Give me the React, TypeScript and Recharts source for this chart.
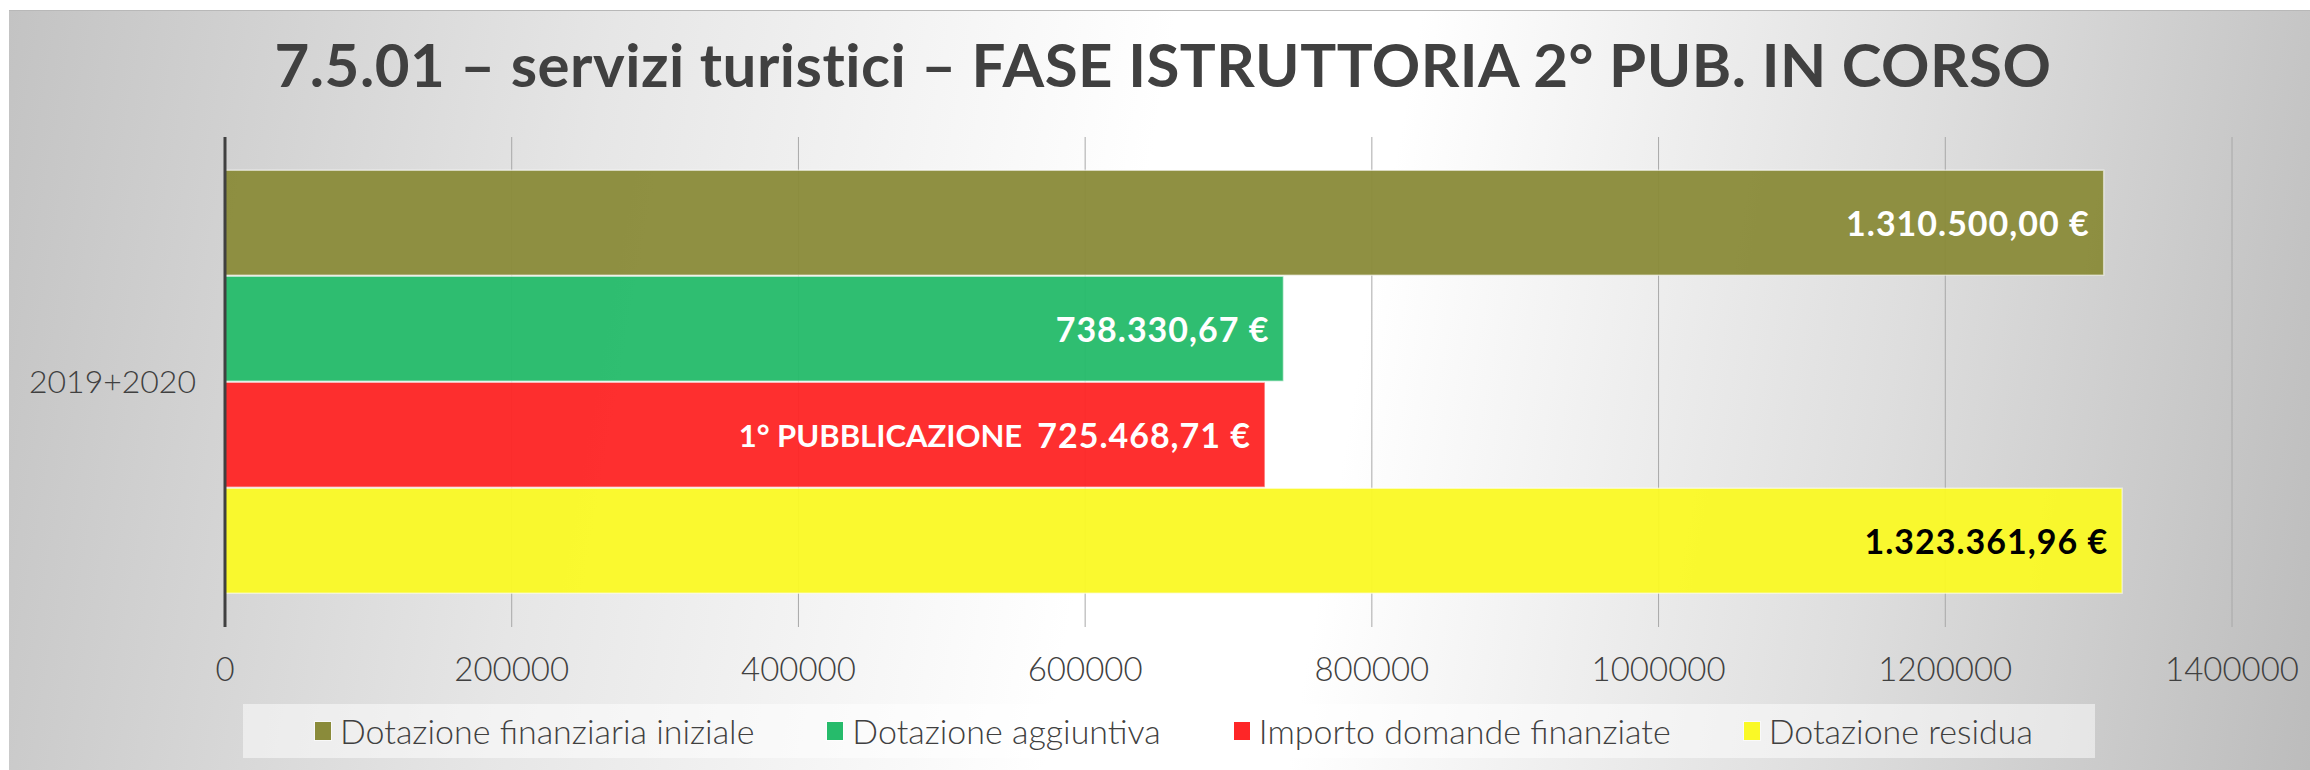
import { BarChart, Bar, XAxis, YAxis, CartesianGrid, LabelList } from 'recharts';

const categories = ['2019+2020'];
const seriesNames = [
  'Dotazione finanziaria iniziale',
  'Dotazione aggiuntiva',
  'Importo domande finanziate',
  'Dotazione residua',
];
const dotazioneIniziale = [1310500];
const dotazioneAggiuntiva = [738330.67];
const importoFinanziate = [725468.71];
const dotazioneResidua = [1323361.96];
const xTicks = [0, 200000, 400000, 600000, 800000, 1000000, 1200000, 1400000];

const COLORS = ['#8a8b3a', '#26bb6b', '#fe2627', '#faf926'];
const LABEL_COLORS = ['#ffffff', '#ffffff', '#ffffff', '#000000'];
const KEYS = ['iniziale', 'aggiuntiva', 'finanziate', 'residua'];
const PREFIX = ['', '', '1° PUBBLICAZIONE\u00a0\u00a0', ''];

const data = categories.map((category, i) => ({
  category,
  iniziale: dotazioneIniziale[i],
  aggiuntiva: dotazioneAggiuntiva[i],
  finanziate: importoFinanziate[i],
  residua: dotazioneResidua[i],
}));

// 1310500 -> "1.310.500,00 €"
const euro = (v: number) => {
  const [int, dec] = v.toFixed(2).split('.');
  return int.replace(/\B(?=(\d{3})+(?!\d))/g, '.') + ',' + dec + ' €';
};

const FONT = 'Lato, "Open Sans", sans-serif';

// value label inside the right end of each bar
const barLabel = (i: number) => (props: any) => {
  const { x, y, width, height, value } = props;
  return (
    <text
      x={Number(x) + Number(width) - 14}
      y={Number(y) + Number(height) / 2}
      textAnchor="end"
      dominantBaseline="central"
      fill={LABEL_COLORS[i]}
      fontSize={34}
      fontWeight={700}
      letterSpacing={1}
      fontFamily={FONT}
    >
      {PREFIX[i] && <tspan fontSize={31} letterSpacing={0}>{PREFIX[i]}</tspan>}
      {euro(Number(value))}
    </text>
  );
};

export default function App() {
  return (
    <div style={{ position: 'relative', width: 2310, height: 770, background: '#fff', fontFamily: FONT }}>
      <style>{'body{margin:0}'}</style>
      <div
        style={{
          position: 'absolute', left: 9, top: 10, right: 0, bottom: 0,
          borderTop: '1px solid #b8b8b8',
          background: 'linear-gradient(100deg, #c3c3c3 0%, #e6e6e6 25%, #ffffff 48%, #ffffff 58%, #dedede 80%, #bcbcbc 100%)',
        }}
      />
      <div
        style={{
          position: 'absolute', left: 0, width: 2326, top: 34, textAlign: 'center',
          fontSize: 60, lineHeight: 1, fontWeight: 700, letterSpacing: 0.5,
          color: '#404040', whiteSpace: 'pre',
        }}
      >
        7.5.01 – servizi turistici – FASE ISTRUTTORIA 2° PUB. IN CORSO
      </div>

      <div style={{ position: 'absolute', left: 0, top: 0 }}>
        <BarChart
          width={2310}
          height={770}
          data={data}
          layout="vertical"
          margin={{ top: 137, right: 78, left: 0, bottom: 0 }}
          barCategoryGap="6.8%"
          barGap={1}
        >
          <CartesianGrid horizontal={false} stroke="#a8a8a8" strokeWidth={1} />
          <XAxis
            type="number"
            domain={[0, 1400000]}
            ticks={xTicks}
            height={143}
            axisLine={false}
            tickLine={false}
            tickMargin={25}
            tick={{ fontSize: 33, fill: '#404040', fontWeight: 300, fontFamily: FONT }}
          />
          <YAxis
            type="category"
            dataKey="category"
            width={225}
            axisLine={{ stroke: '#404040', strokeWidth: 3 }}
            tickLine={false}
            tickMargin={23}
            tick={{ fontSize: 32, fill: '#404040', fontWeight: 300, fontFamily: FONT }}
          />
          {KEYS.map((k, i) => (
            <Bar
              key={k}
              dataKey={k}
              name={seriesNames[i]}
              fill={COLORS[i]}
              fillOpacity={0.96}
              stroke="rgba(255,255,255,0.55)"
              strokeWidth={1.5}
              isAnimationActive={false}
            >
              <LabelList dataKey={k} content={barLabel(i)} />
            </Bar>
          ))}
        </BarChart>
      </div>

      {/* legend */}
      <div
        style={{
          position: 'absolute', left: 243, top: 704, width: 1852, height: 54,
          background: 'rgba(255,255,255,0.5)', display: 'flex', alignItems: 'center',
          paddingLeft: 72, boxSizing: 'border-box', gap: 73,
        }}
      >
        {seriesNames.map((name, i) => (
          <div key={name} style={{ display: 'flex', alignItems: 'center' }}>
            <span
              style={{
                width: 16, height: 18, background: COLORS[i], display: 'inline-block',
                outline: '1px solid rgba(255,255,255,0.6)', marginRight: 9,
              }}
            />
            <span style={{ fontSize: 34, fontWeight: 300, color: '#404040', lineHeight: 1 }}>{name}</span>
          </div>
        ))}
      </div>
    </div>
  );
}
